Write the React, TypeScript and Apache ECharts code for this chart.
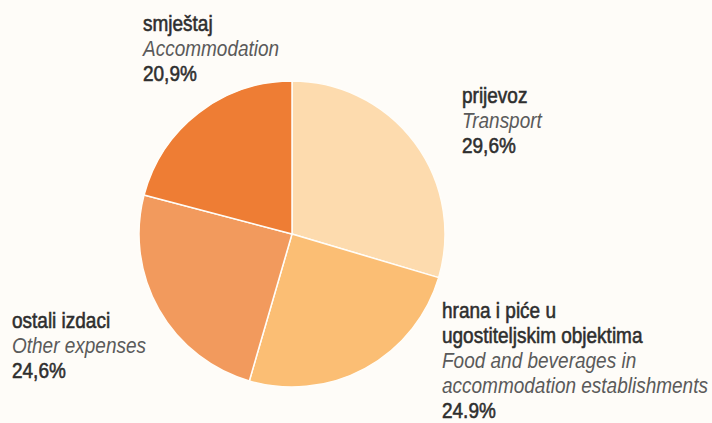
import React, { useEffect, useRef } from "react";
import * as echarts from "echarts";

const namesHr = ["prijevoz", "hrana i piće u\nugostiteljskim objektima", "ostali izdaci", "smještaj"];
const namesEn = ["Transport", "Food and beverages in\naccommodation establishments", "Other expenses", "Accommodation"];
const values = [29.6, 24.9, 24.6, 20.9];
const valueLabels = ["29,6%", "24.9%", "24,6%", "20,9%"];
const colors = ["#FDDBAE", "#FBBE74", "#F29A5D", "#EE7D34"];

// label anchor positions (layout only)
const labelPos = [
  { x: 462, y: 96 },
  { x: 442, y: 311 },
  { x: 12, y: 321 },
  { x: 143, y: 24 },
];

const FONT = "'Liberation Sans', Arial, sans-serif";
const LH = 25;

export default function App() {
  const ref = useRef<HTMLDivElement>(null);
  useEffect(() => {
    document.body.style.margin = "0";
    const chart = echarts.init(ref.current!, null, { renderer: "svg" });
    const graphics: any[] = [];
    values.forEach((_, i) => {
      const lines: { t: string; kind: string }[] = [];
      namesHr[i].split("\n").forEach((t) => lines.push({ t, kind: "hr" }));
      namesEn[i].split("\n").forEach((t) => lines.push({ t, kind: "en" }));
      lines.push({ t: valueLabels[i], kind: "val" });
      lines.forEach((ln, k) => {
        const en = ln.kind === "en";
        graphics.push({
          type: "text",
          x: labelPos[i].x,
          y: labelPos[i].y + k * LH,
          scaleY: 1.12,
          style: {
            text: ln.t,
            fontFamily: FONT,
            fontSize: 19,
            fontStyle: en ? "italic" : "normal",
            fill: en ? "#5a5a5a" : "#2e2e2e",
            stroke: en ? undefined : "#2e2e2e",
            lineWidth: en ? 0 : 0.5,
            verticalAlign: "middle",
            align: "left",
          },
        });
      });
    });
    chart.setOption({
      animation: false,
      backgroundColor: "#FEFCF8",
      series: [
        {
          type: "pie",
          center: [292, 234],
          radius: [0, 153],
          startAngle: 90,
          clockwise: true,
          label: { show: false },
          labelLine: { show: false },
          itemStyle: { borderColor: "#FFFDF8", borderWidth: 1.5 },
          data: values.map((v, i) => ({
            value: v,
            name: namesEn[i].replace("\n", " "),
            itemStyle: { color: colors[i] },
          })),
        },
      ],
      graphic: graphics,
    });
    return () => chart.dispose();
  }, []);
  return <div ref={ref} style={{ width: 712, height: 423, position: "fixed", left: 0, top: 0 }} />;
}
